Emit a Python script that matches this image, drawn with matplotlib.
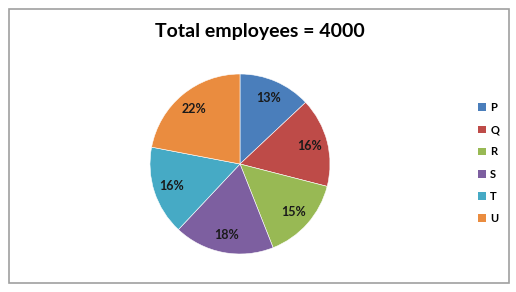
import matplotlib.pyplot as plt
from matplotlib.patches import Rectangle

labels = ["P", "Q", "R", "S", "T", "U"]
shares = [13, 16, 15, 18, 16, 22]
colors = ["#4A7EBB", "#BE4B48", "#98B954", "#7D5FA0", "#46AAC5", "#EA8C3F"]
title = "Total employees = 4000"

plt.rcParams["font.family"] = ["Lato", "DejaVu Sans"]

fig = plt.figure(figsize=(5.16, 2.92), dpi=100)
fig.patch.set_facecolor("white")

# chart frame
fig.add_artist(Rectangle((9 / 516, 9 / 292), 500 / 516, 274 / 292,
                         transform=fig.transFigure, fill=False,
                         edgecolor="#A0A0A0", linewidth=1.2))

ax = fig.add_axes([150 / 516, 38 / 292, 180 / 516, 180 / 292])
wedges, texts = ax.pie(shares, colors=colors, startangle=90, counterclock=False,
                       labels=[f"{v}%" for v in shares], labeldistance=0.8,
                       wedgeprops=dict(edgecolor="white", linewidth=0.4),
                       textprops=dict(fontsize=9, fontweight="bold", color="#1a1a1a",
                                      ha="center", va="center"))
for t in texts:
    t.set_horizontalalignment("center")
ax.set_xlim(-1, 1)
ax.set_ylim(-1, 1)

fig.text(260 / 516, 1 - 32 / 292, title, ha="center", va="center",
         fontsize=14, fontweight="bold", color="black")

handles = [Rectangle((0, 0), 1, 1, facecolor=c) for c in colors]
leg = fig.legend(handles, labels, loc="center left",
                 bbox_to_anchor=(468 / 516, 1 - 163 / 292), frameon=False,
                 prop=dict(size=8, weight="bold"), handlelength=0.7,
                 handleheight=0.7, handletextpad=0.4, labelspacing=1.0)

fig.savefig("out.png", dpi=100)
plt.close(fig)
